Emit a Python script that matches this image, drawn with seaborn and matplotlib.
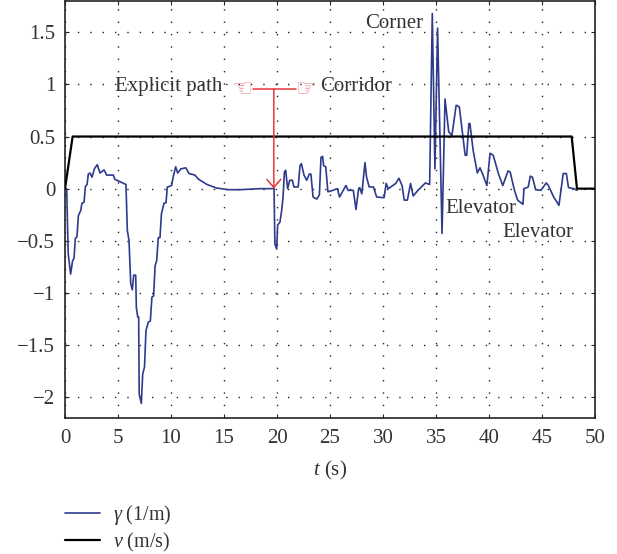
import matplotlib
matplotlib.use("Agg")
import matplotlib.pyplot as plt
import pandas as pd
import seaborn as sns

t_gamma = [0, 0.16, 0.3, 0.53, 0.72, 0.85, 0.97, 1.13, 1.26, 1.48, 1.6, 1.8, 1.92, 2.08, 2.2, 2.36, 2.55, 2.77,
           3.05, 3.3, 3.68, 3.93, 4.56, 4.7, 5.75, 5.88, 6.04, 6.2, 6.35, 6.48, 6.67, 6.73, 6.86, 6.95, 7.0, 7.2,
           7.33, 7.5, 7.64, 7.86, 8.05, 8.2, 8.36, 8.5, 8.65, 8.8, 8.96, 9.1, 9.34, 9.53, 9.65, 10.06, 10.2, 10.44,
           10.63, 10.94, 11.4, 11.7, 12.26, 12.6, 13.4, 14.3, 15.4, 16.5, 18.4, 19.65, 19.72, 19.8, 19.97, 20.06,
           20.28, 20.44, 20.57, 20.7, 20.82, 21.0, 21.2, 21.45, 21.6, 22.0, 22.17, 22.3, 22.55, 22.8, 23.05, 23.2,
           23.4, 23.75, 24.0, 24.15, 24.3, 24.4, 24.6, 24.8, 25.15, 25.7, 25.9, 26.5, 26.7, 27.2, 27.45, 27.7, 27.8,
           28.0, 28.3, 28.45, 28.7, 29.1, 29.4, 30.1, 30.3, 30.5, 31.2, 31.5, 31.8, 32.0, 32.3, 32.6, 32.85, 33.3,
           34.0, 34.4, 34.65, 34.9, 35.15, 35.57, 35.85, 36.2, 36.5, 36.6, 36.9, 37.2, 37.5, 37.75, 37.9, 38.1, 38.2,
           38.5, 38.9, 39.15, 39.4, 39.8, 40.1, 40.4, 40.9, 41.3, 41.8, 42.0, 42.4, 42.7, 43.2, 43.3, 43.7, 43.9,
           44.1, 44.4, 44.9, 45.4, 45.6, 46.1, 46.6, 47.0, 47.3, 47.5, 48.0, 48.3]
gamma = [0, 0, -0.62, -0.82, -0.69, -0.67, -0.48, -0.46, -0.26, -0.21, -0.14, -0.13, 0.02, 0.04, 0.14, 0.15, 0.11,
         0.19, 0.23, 0.15, 0.18, 0.13, 0.13, 0.09, 0.04, -0.40, -0.50, -0.91, -0.97, -0.83, -0.83, -1.14, -1.23,
         -1.23, -1.97, -2.06, -1.78, -1.71, -1.36, -1.28, -1.27, -1.04, -1.03, -0.74, -0.69, -0.47, -0.47, -0.24,
         -0.14, -0.135, 0.015, 0.03, 0.11, 0.21, 0.15, 0.19, 0.2, 0.145, 0.13, 0.09, 0.04, 0.006, -0.01, -0.01, 0, 0,
         0, -0.53, -0.58, -0.35, -0.32, -0.21, -0.08, 0.16, 0.176, 0, 0.08, 0.08, 0.016, 0.016, 0.22, 0.24, 0.13,
         0.08, 0.14, 0.14, -0.08, -0.1, -0.06, 0.30, 0.31, 0.22, 0.21, -0.03, -0.02, 0, -0.08, 0.03, -0.016, -0.016,
         -0.2, 0, 0.01, -0.05, 0.25, 0.11, 0.016, 0.016, -0.08, -0.087, 0.05, 0, 0.05, 0.1, 0.03, -0.11, -0.11, 0.05,
         -0.07, -0.016, 0.055, 0.04, 1.68, 0.19, 1.54, -0.43, 0.86, 0.545, 0.51, 0.58, 0.8, 0.785, 0.53, 0.32, 0.32,
         0.625, 0.625, 0.37, 0.15, 0.2, 0.14, 0.03, 0.34, 0.32, 0.14, 0.03, 0.17, 0.16, -0.016, -0.11, -0.15, 0,
         0.016, 0.12, 0.11, -0.01, -0.016, 0.055, 0.03, -0.08, -0.16, 0.145, 0.145, 0.01, 0, -0.016]

t_speed = [0, 0.72, 47.8, 48.3, 50]
speed = [0, 0.5, 0.5, 0, 0]

x_ticks = [0, 5, 10, 15, 20, 25, 30, 35, 40, 45, 50]
y_ticks = [-2, -1.5, -1, -0.5, 0, 0.5, 1, 1.5]
y_labels = ["\u22122", "\u22121.5", "\u22121", "\u22120.5", "0", "0.5", "1", "1.5"]

sns.set_theme(style="ticks")
plt.rcParams["font.family"] = ["Liberation Serif", "DejaVu Serif"]
plt.rcParams["mathtext.fontset"] = "custom"
plt.rcParams["mathtext.rm"] = "Liberation Serif"
plt.rcParams["mathtext.it"] = "Liberation Serif:italic"
plt.rcParams["mathtext.fallback"] = "stix"

text_color = "#333333"
font_size = 15

fig = plt.figure(figsize=(6.17, 5.54), dpi=100)
ax = fig.add_axes([65 / 617, 1 - 418 / 554, 530 / 617, 417 / 554])

gamma_df = pd.DataFrame({"t": t_gamma, "value": gamma})
speed_df = pd.DataFrame({"t": t_speed, "value": speed})
sns.lineplot(data=gamma_df, x="t", y="value", ax=ax, color="#2e3a8c", lw=1.2, sort=False, estimator=None,
             label=r"$\gamma$ (1/m)", zorder=3)
sns.lineplot(data=speed_df, x="t", y="value", ax=ax, color="black", lw=1.6, sort=False, estimator=None,
             label=r"$\nu$ (m/s)", zorder=4)

ax.set_xlim(0, 50)
ax.set_ylim(-2.2, 1.8)
ax.set_xticks(x_ticks)
ax.set_yticks(y_ticks)
ax.set_yticklabels(y_labels)
ax.tick_params(direction="in", length=3, width=0.8, top=True, right=True, labelsize=font_size,
               labelcolor=text_color, color="#222222")
ax.tick_params(axis="x", pad=8)
ax.tick_params(axis="y", pad=7)
ax.grid(True, color="#222222", lw=1.0, linestyle=(0, (1, 7.9)))
ax.set_axisbelow(True)
for spine in ax.spines.values():
    spine.set_linewidth(1.2)
    spine.set_color("#222222")
    spine.set_visible(True)
ax.set_xlabel(r"$t$ (s)", fontsize=font_size, color=text_color, labelpad=8)
ax.set_ylabel("")

# labels on the plot
ax.text(4.7, 0.98, "Explicit path", fontsize=font_size, color=text_color, va="center")
ax.text(24.05, 0.98, "Corridor", fontsize=font_size, color=text_color, va="center")
ax.text(28.3, 1.585, "Corner", fontsize=font_size, color=text_color, va="center")
ax.text(35.85, -0.19, "Elevator", fontsize=font_size, color=text_color, va="center")
ax.text(41.3, -0.42, "Elevator", fontsize=font_size, color=text_color, va="center")

# red pointers
ax.plot([17.7, 21.75], [0.955, 0.955], color="#e8353a", lw=1.1, zorder=5)
ax.annotate("", xy=(19.7, 0.0), xytext=(19.7, 0.955),
            arrowprops=dict(arrowstyle="->,head_width=0.36,head_length=0.42", color="#e8353a", lw=1.1,
                            mutation_scale=14, shrinkA=0, shrinkB=0), zorder=5)
ax.text(17.7, 0.955, "\u261c", fontsize=17, color="#ee8a8f", ha="right", va="center", family="DejaVu Sans")
ax.text(21.75, 0.955, "\u261e", fontsize=17, color="#ee8a8f", ha="left", va="center", family="DejaVu Sans")

ax.legend(loc="upper left", bbox_to_anchor=(0.0, -0.2035), borderaxespad=0, borderpad=0, frameon=False,
          fontsize=14.5, labelcolor=text_color, handlelength=1.74, handletextpad=0.64, labelspacing=0.2)

plt.savefig("out.png", dpi=100)
